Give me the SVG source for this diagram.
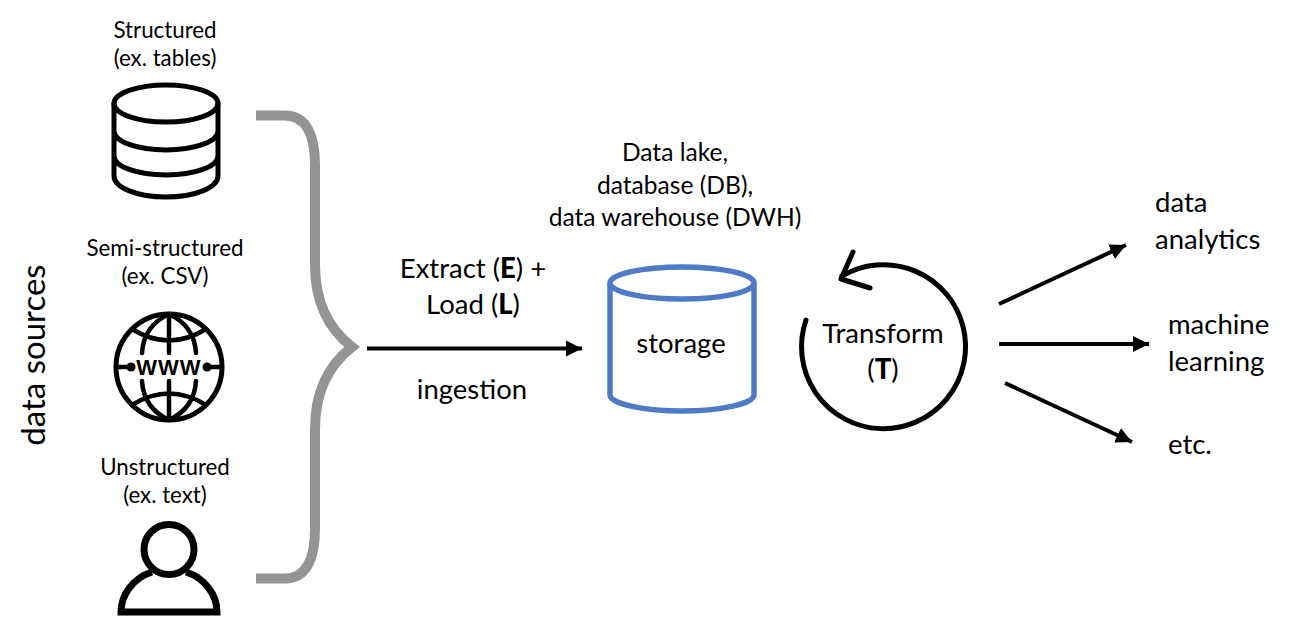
<svg xmlns="http://www.w3.org/2000/svg" width="1300" height="642" viewBox="0 0 1300 642">
<defs>
<marker id="ah" markerUnits="userSpaceOnUse" markerWidth="18" markerHeight="18" refX="16" refY="9" orient="auto"><path d="M0 1L16 9L0 17z" fill="#000"/></marker>
</defs>
<style>
text{font-family:"Lato","Noto Sans",sans-serif;fill:#000;text-anchor:middle}
.s{font-size:22.3px}
.m{font-size:24.6px}
.l{font-size:27.5px}
.st{text-anchor:start}
.k{fill:none;stroke:#000;stroke-linecap:round;stroke-linejoin:round}
.c{fill:none;stroke:#4f7bc6;stroke-width:5.5}
.a{fill:none;stroke:#000;stroke-width:4;marker-end:url(#ah)}
.b{font-weight:900}
</style>
<rect width="1300" height="642" fill="#fff"/>
<g id="node-structured">
<text class="s" x="165" y="38">Structured</text>
<text class="s" x="165" y="66">(ex. tables)</text>
<ellipse class="k" cx="166" cy="103.5" rx="52" ry="18.5" stroke-width="5"/>
<path class="k" stroke-width="5" d="M114 103.5V176A52 21 0 0 0 218 176V103.5M114 131A52 19 0 0 0 218 131M114 156A52 19 0 0 0 218 156"/>
</g>
<g id="node-semi">
<text class="s" x="165" y="256">Semi-structured</text>
<text class="s" x="165" y="284">(ex. CSV)</text>
<circle class="k" cx="169" cy="367" r="53" stroke-width="5"/>
<path class="k" stroke-width="4.500" d="M169 314V353M169 381V420M142 353C143 336 152 322 169 314C186 322 195 336 196 353M142 381C143 398 152 412 169 420C186 412 195 398 196 381M132 329Q169 352 206 329M132 405Q169 382 206 405M116 367H131M207 367H222"/>
<circle cx="131" cy="367" r="4.500" fill="#000"/><circle cx="207" cy="367" r="4.500" fill="#000"/>
<text x="169" y="375" style="font-family:'Liberation Sans',sans-serif;font-weight:700;font-size:22px;letter-spacing:1px">WWW</text>
</g>
<g id="node-unstructured">
<text class="s" x="165" y="475">Unstructured</text>
<text class="s" x="165" y="503">(ex. text)</text>
<circle cx="169" cy="549.5" r="25" fill="none" stroke="#000" stroke-width="7"/>
<path fill="none" stroke="#000" stroke-width="7" d="M152 572C133 578 121 595 121 612H217C217 595 205 578 186 572"/>
</g>
<text transform="translate(45 355) rotate(-90)" style="font-size:33px">data sources</text>
<g id="connectors">
<path d="M256 115.5H285C306 115.5 315 135 315 165V265C315 305 330 330 352 347C330 364 315 389 315 429V529C315 559 306 578.5 285 578.5H256" fill="none" stroke="#949494" stroke-width="10"/>
<path class="a" d="M367 348.500H582"/>
<path class="a" d="M999 304L1126 245"/>
<path class="a" d="M999 344H1149"/>
<path class="a" d="M1005 383L1132 442"/>
</g>
<g id="node-ingestion">
<text class="l" x="473" y="278">Extract (<tspan class="b">E</tspan>) +</text>
<text class="l" x="473" y="314">Load (<tspan class="b">L</tspan>)</text>
<text class="l" x="472" y="399">ingestion</text>
</g>
<g id="node-storage">
<text class="m" x="675" y="161">Data lake,</text>
<text class="m" x="675" y="194">database (DB),</text>
<text class="m" x="675" y="226">data warehouse (DWH)</text>
<ellipse class="c" cx="682" cy="283" rx="72" ry="16"/>
<path class="c" d="M610 283V395C610 404 645 411 682 411C719 411 754 404 754 395V283"/>
<text class="l" x="681" y="353">storage</text>
</g>
<g id="node-transform">
<path class="k" stroke-width="5" d="M806 320A82 82 0 1 0 842 276"/>
<path class="k" stroke-width="5" d="M853 252L841 279L870 288"/>
<text class="l" x="883" y="343">Transform</text>
<text class="l" x="883" y="379">(<tspan class="b">T</tspan>)</text>
</g>
<g id="node-analytics"><text class="l st" x="1155" y="212">data</text><text class="l st" x="1155" y="249">analytics</text></g>
<g id="node-ml"><text class="l st" x="1168" y="334">machine</text><text class="l st" x="1168" y="371">learning</text></g>
<g id="node-etc"><text class="l st" x="1168" y="454">etc.</text></g>
</svg>
